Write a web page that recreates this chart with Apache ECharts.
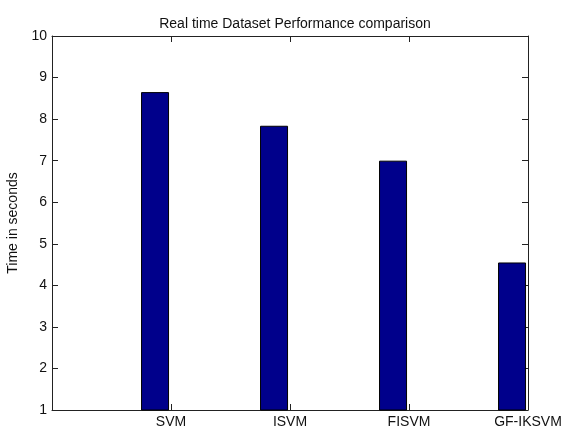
<!DOCTYPE html>
<html>
<head>
<meta charset="utf-8">
<script src="https://cdn.jsdelivr.net/npm/echarts@6/dist/echarts.min.js"></script>
<style>html,body{margin:0;padding:0;background:#fff}#c{width:565px;height:427px}</style>
</head>
<body>
<div id="c"></div>
<script>
const categories = ['SVM', 'ISVM', 'FISVM', 'GF-IKSVM'];
const positions = [1, 2, 3, 4];
const times = [8.65, 7.84, 7.0, 4.55];
const yTicks = [1, 2, 3, 4, 5, 6, 7, 8, 9, 10];

const font = 'Liberation Sans, Arial, sans-serif';
const chart = echarts.init(document.getElementById('c'));
const mkLine = () => ({ show: true, onZero: false, lineStyle: { color: '#222', width: 1 } });
const mkTick = () => ({ show: true, inside: true, length: 6, lineStyle: { color: '#222', width: 1 } });

chart.setOption({
  animation: false,
  backgroundColor: '#fff',
  title: {
    text: 'Real time Dataset Performance comparison',
    left: 290, top: 12, textAlign: 'center',
    textStyle: { fontFamily: font, fontSize: 14, fontWeight: 'normal', color: '#111' }
  },
  grid: { left: 52, right: 37, top: 36, bottom: 17, containLabel: false, outerBoundsMode: 'none' },
  xAxis: [{
    type: 'value', min: 0, max: 4, interval: 1,
    axisLine: mkLine(), axisTick: mkTick(), splitLine: { show: false },
    axisLabel: {
      fontFamily: font, fontSize: 14, color: '#111', margin: 5,
      formatter: v => (v >= 1 ? categories[positions.indexOf(v)] : '')
    }
  }, {
    type: 'value', position: 'top', min: 0, max: 4, interval: 1,
    axisLine: mkLine(), axisTick: mkTick(), splitLine: { show: false }, axisLabel: { show: false }
  }],
  yAxis: [{
    type: 'value', min: yTicks[0], max: yTicks[yTicks.length - 1], interval: 1,
    axisLine: mkLine(), axisTick: mkTick(), splitLine: { show: false },
    name: 'Time in seconds', nameLocation: 'middle', nameGap: 29, nameRotate: 90,
    nameTextStyle: { fontFamily: font, fontSize: 14, color: '#111' },
    axisLabel: { fontFamily: font, fontSize: 14, color: '#111', margin: 5 }
  }, {
    type: 'value', position: 'right', min: yTicks[0], max: yTicks[yTicks.length - 1], interval: 1,
    axisLine: mkLine(), axisTick: mkTick(), splitLine: { show: false }, axisLabel: { show: false }
  }],
  series: [{
    type: 'bar', xAxisIndex: 0, yAxisIndex: 0,
    barWidth: 28, barGap: '14%', clip: true,
    itemStyle: { color: '#00008B', borderColor: '#000', borderWidth: 1 },
    data: positions.map((p, i) => [p, times[i]])
  }, {
    type: 'bar', xAxisIndex: 0, yAxisIndex: 0,
    barWidth: 28, barGap: '14%',
    itemStyle: { color: '#00008B' },
    data: positions.map(p => [p, '-'])
  }]
});
</script>
</body>
</html>
